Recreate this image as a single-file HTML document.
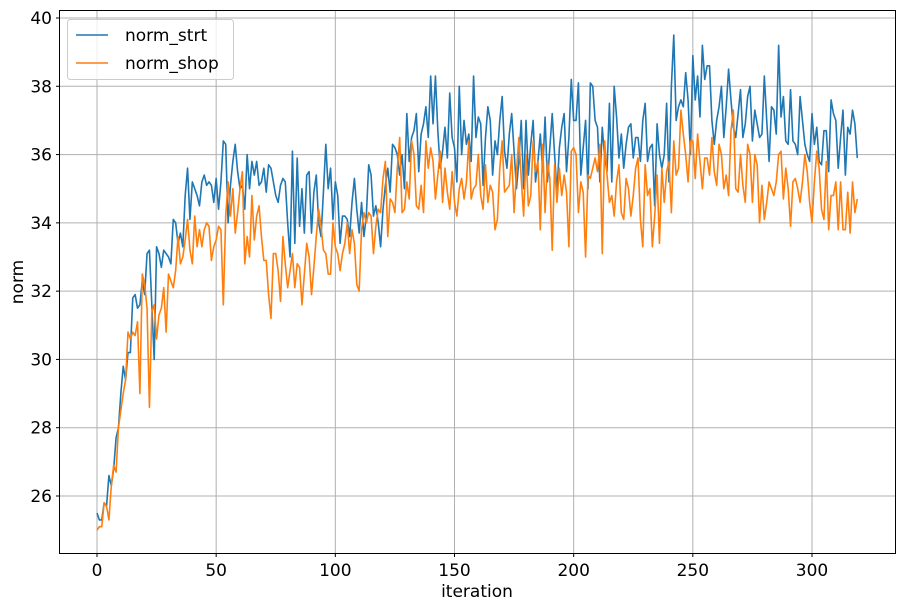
<!DOCTYPE html>
<html><head><meta charset="utf-8"><style>
body{margin:0;background:#fff;}
svg{display:block;font-family:"DejaVu Sans","Liberation Sans",sans-serif;}
</style></head><body>
<svg id="chart" width="906" height="608" viewBox="0 0 906 608" xmlns="http://www.w3.org/2000/svg">
<rect x="59.5" y="10.5" width="836" height="543" fill="#fff" stroke="none"/>
<g id="grid"></g>
<g id="series"></g>
<rect x="59.5" y="10.5" width="836" height="543" fill="none" stroke="#000" stroke-width="1"/>
<g id="ticks"></g>
<text x="477" y="597" font-size="17" text-anchor="middle">iteration</text>
<text transform="translate(23,282) rotate(-90)" font-size="17" text-anchor="middle">norm</text>
<g>
<rect x="67.5" y="19.5" width="166" height="60" rx="3" fill="#fff" fill-opacity="0.8" stroke="#ccc"/>
<line x1="76" y1="35" x2="108" y2="35" stroke="#1f77b4" stroke-width="1.6"/>
<text x="125" y="41" font-size="17">norm_strt</text>
<line x1="76" y1="63" x2="108" y2="63" stroke="#ff7f0e" stroke-width="1.6"/>
<text x="125" y="69" font-size="17">norm_shop</text>
</g>
</svg>
<script>
const xTicks=[0,50,100,150,200,250,300];
const yTicks=[26,28,30,32,34,36,38,40];
const normStrt=[25.5,25.3,25.3,25.8,25.7,26.6,26.3,26.8,27.7,28.0,
29.0,29.8,29.4,30.2,30.2,31.8,31.9,31.5,31.6,32.3,
31.9,33.1,33.2,31.6,30.0,33.3,33.1,32.7,33.2,33.1,
33.0,32.8,34.1,34.0,33.4,33.7,33.3,34.8,35.6,34.1,
35.2,35.0,34.8,34.5,35.2,35.4,35.1,35.2,35.1,34.6,
35.3,34.4,35.2,36.4,36.3,34.0,35.1,35.8,36.3,35.5,
35.0,35.1,34.4,36.0,35.0,35.8,35.4,35.8,35.1,35.2,
35.6,34.9,35.7,35.6,35.2,34.8,34.6,35.1,35.3,35.2,
34.0,33.0,36.1,33.4,35.9,33.9,35.0,33.7,35.4,35.5,
33.7,34.9,35.4,34.0,33.6,34.9,36.3,35.0,35.6,34.1,
35.2,34.8,33.4,34.2,34.2,34.1,33.6,34.6,35.3,34.4,
33.7,34.6,33.6,34.2,35.7,35.4,34.2,34.5,34.0,33.3,
34.4,35.1,35.6,34.9,36.3,36.2,36.0,35.4,36.0,35.0,
37.2,35.8,36.5,36.7,37.2,35.5,36.6,36.9,37.4,36.5,
38.3,36.9,38.3,36.7,35.6,36.1,36.8,35.9,37.8,36.5,
36.2,35.2,38.0,36.0,37.0,36.3,36.6,35.8,38.3,36.5,
37.1,36.9,35.1,36.5,37.4,37.0,35.4,36.4,36.0,37.0,
37.7,36.1,35.6,36.6,37.2,36.1,35.0,35.8,37.0,35.0,
37.0,35.4,36.3,37.0,35.2,35.8,36.6,35.5,37.1,35.2,
36.2,37.2,36.0,34.9,36.2,36.8,37.2,35.5,36.5,38.2,
37.0,37.0,38.1,35.4,36.2,37.0,35.0,38.1,38.0,37.0,
36.8,35.2,36.8,35.9,35.5,37.5,35.2,38.0,37.1,35.9,
36.6,35.6,36.3,36.8,36.9,35.9,36.5,36.5,35.8,37.0,
37.5,35.8,36.2,36.3,34.5,36.9,36.0,35.6,36.0,37.5,
35.2,38.0,39.5,37.0,37.4,37.6,37.4,38.4,37.6,36.0,
38.9,37.6,38.3,37.1,39.2,38.2,38.6,38.6,37.0,36.3,
37.0,37.4,38.0,36.5,37.4,38.5,37.6,36.8,36.5,37.2,
37.9,36.5,36.9,37.7,38.0,36.4,37.3,36.9,36.5,36.6,
38.3,37.0,35.8,37.4,37.3,36.6,39.2,37.1,37.7,36.4,
36.3,37.9,36.4,36.3,36.0,37.7,37.0,36.3,36.0,35.8,
37.2,36.3,36.8,35.8,35.7,36.7,36.7,35.5,37.6,37.2,
37.0,35.6,36.5,37.3,35.4,36.8,36.6,37.3,36.9,35.9];
const normShop=[25.0,25.1,25.1,25.8,25.7,25.3,26.3,26.9,26.7,28.0,
28.5,29.0,29.4,30.8,30.6,30.8,30.7,31.1,29.0,32.5,
32.2,31.5,28.6,31.4,31.6,30.6,31.3,31.5,32.1,30.8,
32.5,32.3,32.1,32.6,33.6,32.8,33.0,33.5,34.1,33.2,
32.8,34.2,33.3,33.8,33.3,33.8,34.0,33.9,32.9,33.3,
33.5,33.9,33.8,31.6,34.2,35.2,34.2,35.0,33.7,34.3,
35.0,35.5,32.8,33.6,33.0,34.8,33.5,34.2,34.5,33.6,
32.9,32.9,31.9,31.2,33.1,33.1,32.6,31.7,33.6,32.8,
32.1,32.6,33.1,32.1,32.8,32.7,31.6,32.5,33.4,33.0,
31.9,32.7,33.6,34.4,33.9,33.2,33.1,32.5,32.5,34.0,
33.3,33.1,32.6,33.1,33.4,34.0,33.1,33.8,33.4,32.2,
32.0,33.8,34.3,34.0,34.3,34.2,33.1,33.9,34.4,34.3,
35.3,35.8,33.6,34.7,34.6,34.3,35.6,36.5,34.3,34.4,
35.2,34.7,36.4,36.0,34.5,34.4,35.1,34.3,36.4,35.6,
36.2,35.8,34.7,35.4,36.1,34.6,35.6,34.9,34.4,35.5,
34.6,34.2,35.0,35.3,34.7,35.2,36.4,34.7,35.0,35.1,
36.0,34.8,34.4,35.7,34.6,35.1,34.9,33.8,34.1,35.6,
36.4,34.9,35.0,35.1,36.0,34.3,35.5,36.5,35.3,34.2,
36.0,34.5,34.8,36.4,35.5,35.8,33.8,36.3,34.3,35.8,
35.3,33.2,35.7,34.6,35.6,34.8,35.4,34.9,33.3,36.1,
36.2,36.0,34.3,35.2,34.9,33.0,35.4,35.3,35.6,35.9,
35.5,36.3,33.1,36.4,35.4,34.6,34.8,34.2,35.2,35.7,
34.3,34.1,35.3,35.0,34.2,34.8,35.6,35.9,34.1,33.3,
35.7,34.8,35.0,33.3,34.2,35.4,33.4,35.6,34.6,35.5,
35.8,34.3,36.4,35.4,35.6,37.3,36.6,36.0,35.2,36.4,
36.4,35.3,36.6,35.8,35.0,35.9,35.9,35.4,36.5,35.5,
35.1,36.3,36.0,35.0,35.4,34.8,36.7,37.3,35.0,34.9,
36.0,35.1,34.6,36.3,36.0,34.6,36.0,35.7,34.0,35.1,
34.1,34.6,35.2,35.0,34.8,35.2,36.0,36.1,34.7,35.6,
35.0,33.9,35.2,35.3,35.0,34.6,35.2,36.0,35.5,34.6,
34.0,35.2,36.1,35.6,34.4,34.1,35.8,33.8,34.8,34.8,
35.2,33.8,35.2,33.8,33.8,34.9,33.7,35.2,34.3,34.7];

const NS="http://www.w3.org/2000/svg";
const xS=v=>97+v*(715/300);
const yS=v=>18+(40-v)*(478/14);
const grid=document.getElementById('grid'),ticks=document.getElementById('ticks'),series=document.getElementById('series');
function mk(tag,attrs,parent){const e=document.createElementNS(NS,tag);for(const k in attrs)e.setAttribute(k,attrs[k]);parent.appendChild(e);return e;}
xTicks.forEach(t=>{
  const x=xS(t);
  const g=mk('line',{x1:x,y1:10.5,x2:x,y2:553.5,stroke:'#b0b0b0','stroke-width':1},grid);
  
  
  mk('line',{x1:x,y1:553.5,x2:x,y2:557,stroke:'#000'},ticks);
  const tx=mk('text',{x:x,y:576,'font-size':17,'text-anchor':'middle'},ticks);
  tx.textContent=t;
  
  
});
yTicks.forEach(t=>{
  const y=yS(t);
  const g=mk('line',{x1:59.5,y1:y,x2:895.5,y2:y,stroke:'#b0b0b0','stroke-width':1},grid);
  
  
  mk('line',{x1:56,y1:y,x2:59.5,y2:y,stroke:'#000'},ticks);
  const tx=mk('text',{x:52,y:y+6,'font-size':17,'text-anchor':'end'},ticks);
  tx.textContent=t;
  
  
});
function line(data,color,name){
  const d=data.map((v,i)=>(i?'L':'M')+xS(i).toFixed(2)+','+yS(v).toFixed(2)).join('');
  const p=mk('path',{d:d,fill:'none',stroke:color,'stroke-width':1.6,'stroke-linejoin':'round'},series);
  
  
}
line(normStrt,'#1f77b4','norm-strt-line');
line(normShop,'#ff7f0e','norm-shop-line');
</script>
</body></html>
